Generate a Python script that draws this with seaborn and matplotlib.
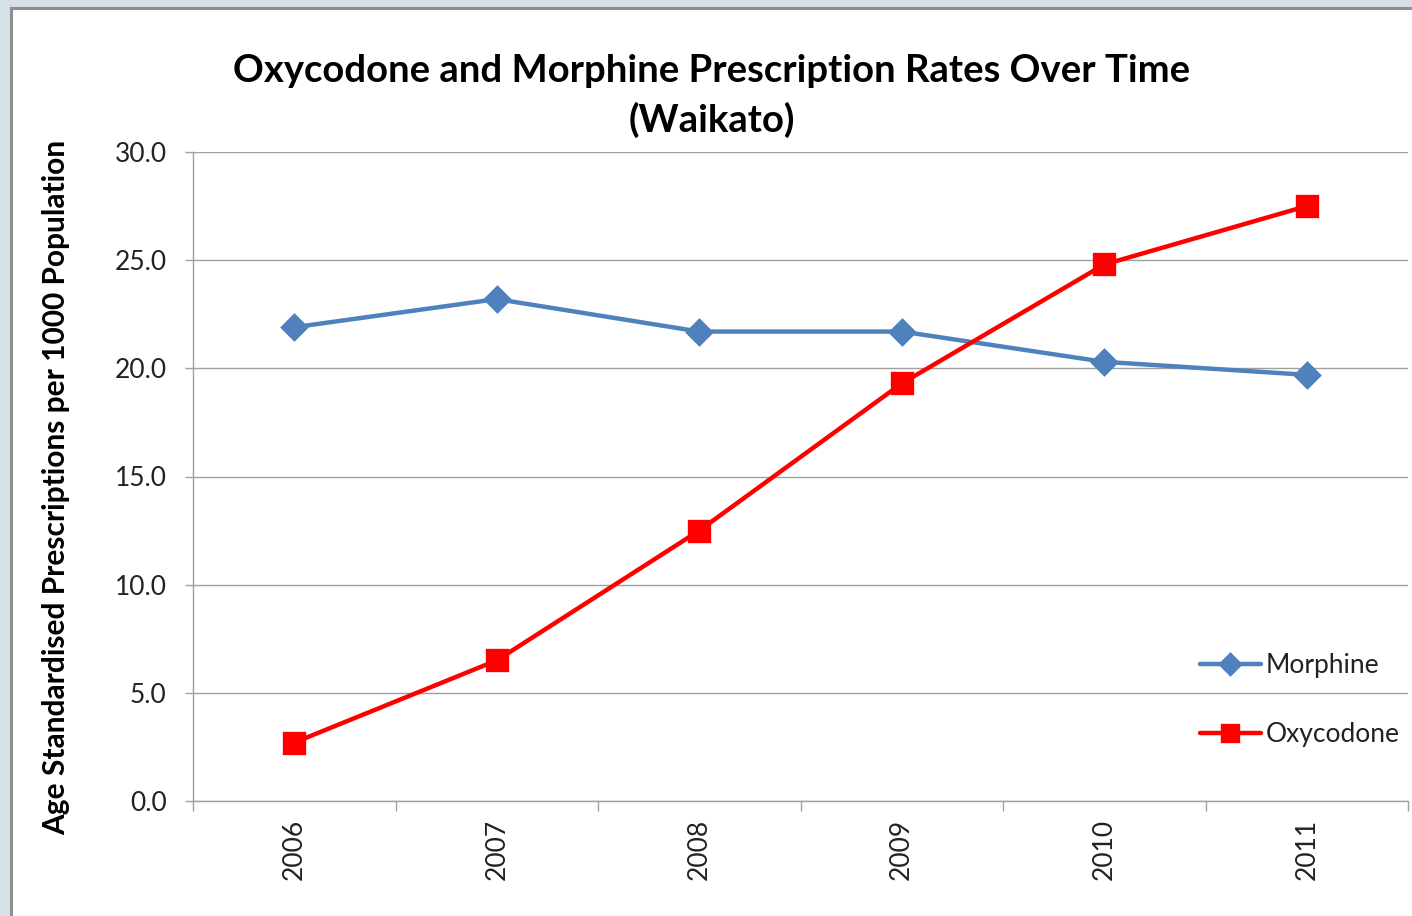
import numpy as np
import pandas as pd
import matplotlib.pyplot as plt
import seaborn as sns
from matplotlib.patches import Rectangle
from matplotlib.ticker import FixedLocator

# values
years = ['2006', '2007', '2008', '2009', '2010', '2011']
morphine = [21.9, 23.2, 21.7, 21.7, 20.3, 19.7]
oxycodone = [2.7, 6.5, 12.5, 19.3, 24.8, 27.5]
drugs = ['Morphine', 'Oxycodone']
yticks = [0, 5, 10, 15, 20, 25, 30]

df = pd.DataFrame({
    'Year': years * 2,
    'Rate': morphine + oxycodone,
    'Drug': [drugs[0]] * len(years) + [drugs[1]] * len(years),
})

sns.set_theme(style='white')
plt.rcParams['font.family'] = ['Lato', 'DejaVu Sans']

W, H = 1412, 916
fig = plt.figure(figsize=(W / 100, H / 100), dpi=100, facecolor='#d6e1e7')

# white chart area with grey frame (Excel look)
frame = Rectangle((10.5 / W, -0.05), 1.2, 1 - 8.5 / H + 0.05, transform=fig.transFigure,
                  facecolor='white', edgecolor='#8e8e8e', lw=2.2, zorder=-1)
fig.add_artist(frame)

ax = fig.add_axes([193 / W, 1 - 801 / H, (1408 - 193) / W, 649 / H])
ax.set_facecolor('none')

sns.pointplot(data=df, x='Year', y='Rate', hue='Drug', order=years, hue_order=drugs,
              palette=['#4f81bd', '#ff0000'], markers=['D', 's'], linestyles=['-', '-'],
              errorbar=None, ax=ax, markersize=12.5, linewidth=3.2)

ax.set_xlim(-0.5, 5.5)
ax.set_ylim(0, 30)
ax.set_yticks(yticks)
ax.set_yticklabels([f'{v:.1f}' for v in yticks])
ax.xaxis.set_minor_locator(FixedLocator(np.arange(-0.5, 6, 1)))
ax.tick_params(axis='x', which='major', length=0, pad=13, rotation=90, labelsize=19, labelcolor='#222222')
ax.tick_params(axis='x', which='minor', length=7, width=1, color='#a0a0a0', direction='out', bottom=True)
ax.tick_params(axis='y', length=6, width=1, color='#a0a0a0', direction='out', left=True, pad=13,
               labelsize=19, labelcolor='#222222')
ax.grid(axis='y', color='#a0a0a0', lw=1)
ax.set_axisbelow(True)
ax.set_xlabel('')
ax.set_ylabel('')
for s in ['top', 'right']:
    ax.spines[s].set_visible(False)
for s in ['left', 'bottom']:
    ax.spines[s].set_color('#a0a0a0')
    ax.spines[s].set_linewidth(1)

# square markers a bit larger than the diamonds
for line in ax.lines:
    if line.get_marker() == 's':
        line.set_markersize(14.5)

handles, labels = ax.get_legend_handles_labels()
leg = ax.legend(handles, labels, loc='center left', bbox_to_anchor=(1200 / W, 1 - 700 / H),
                bbox_transform=fig.transFigure, frameon=False, fontsize=19, handlelength=2.3,
                handletextpad=0.2, labelspacing=1.65, borderpad=0, borderaxespad=0, markerscale=0.8)
for t in leg.get_texts():
    t.set_color('#222222')

fig.text(712 / W, 1 - 71 / H, 'Oxycodone and Morphine Prescription Rates Over Time',
         ha='center', va='center', fontsize=27.5, fontweight='bold', color='black')
fig.text(712 / W, 1 - 120 / H, '(Waikato)',
         ha='center', va='center', fontsize=27.5, fontweight='bold', color='black')
fig.text(56 / W, 1 - 487.5 / H, 'Age Standardised Prescriptions per 1000 Population',
         ha='center', va='center', rotation=90, fontsize=21.5, fontweight='bold', color='black')

plt.savefig('out.png', dpi=100, facecolor=fig.get_facecolor())
